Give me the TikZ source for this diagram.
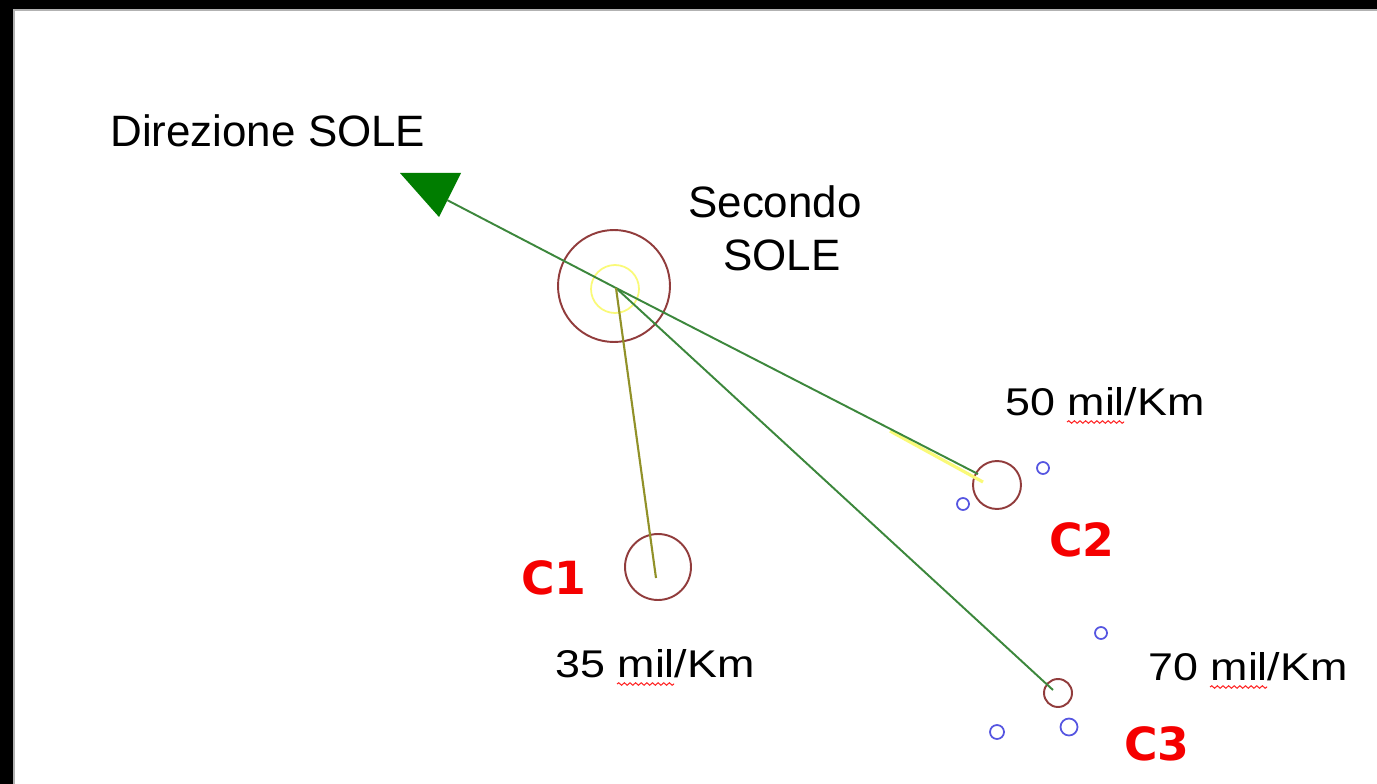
\documentclass[tikz,border=0pt]{standalone}
\usepackage{fontspec}
\setmainfont{Liberation Sans}
\newfontfamily\siglafont{DejaVu Sans}
\usepackage{xcolor}
\usetikzlibrary{decorations.pathmorphing}

\definecolor{colRaggio}{RGB}{60,135,60}
\definecolor{colOliva}{RGB}{145,145,40}
\definecolor{colCorpo}{RGB}{145,60,60}
\definecolor{colLuna}{RGB}{85,85,225}
\definecolor{colFreccia}{RGB}{0,125,0}
\definecolor{colGiallo}{RGB}{250,250,120}
\definecolor{colSigla}{RGB}{245,0,0}

\begin{document}
\begin{tikzpicture}[x=0.02cm, y=-0.02cm,
	corpo/.style={draw=colCorpo, line width=1.1pt, circle, inner sep=0pt},
	satellite/.style={draw=colLuna, line width=1pt, circle, inner sep=0pt, minimum size=0.24cm},
	raggio/.style={draw=colRaggio, line width=1.1pt},
	titolo/.style={font=\fontsize{25pt}{30pt}\selectfont, inner sep=0pt},
	distanza/.style={font=\fontsize{22pt}{26pt}\selectfont, xscale=1.16, anchor=base west, inner sep=0pt},
	sigla/.style={font=\siglafont\bfseries\fontsize{26pt}{30pt}\selectfont, text=colSigla, anchor=base west, inner sep=0pt},
	ondina/.style={draw=red!85, line width=0.6pt, decorate, decoration={snake, amplitude=0.7pt, segment length=3.2pt}}]
	\useasboundingbox (0,0) rectangle (1377,784);
	
	% 背景与边框
	\fill[white] (0,0) rectangle (1377,784);
	\fill[black] (0,0) rectangle (1377,9);
	\fill[black] (0,0) rectangle (13,784);
	\draw[gray!60, line width=0.6pt] (13,10) -- (1377,10);
	\draw[gray!60, line width=0.6pt] (14,9) -- (14,784);
	
	% 第二个太阳
	\node[corpo, minimum size=2.24cm] (sole) at (614,286) {};
	\node[draw=colGiallo, line width=1pt, circle, inner sep=0pt, minimum size=0.96cm] (nucleo) at (615,289) {};
	\coordinate (centro) at (616,288);
	
	% 天体
	\node[corpo, minimum size=1.32cm] (c1) at (658,567) {};
	\node[corpo, minimum size=0.96cm] (c2) at (997,485) {};
	\node[corpo, minimum size=0.56cm] (c3) at (1058,693) {};
	\coordinate (c1fine) at (656,578);
	\coordinate (c2fine) at (978,474);
	\coordinate (c3fine) at (1053,690);
	
	% 卫星
	\node[satellite] (s1) at (1043,468) {};
	\node[satellite] (s2) at (963,504) {};
	\node[satellite] (s3) at (1101,633) {};
	\node[satellite, minimum size=0.34cm] (s4) at (1069,727) {};
	\node[satellite, minimum size=0.28cm] (s5) at (997,732) {};
	
	% 太阳方向
	\coordinate (apice) at (447,200);
	\fill[colFreccia] (400,173) -- (461,173) -- (439,217) -- cycle;
	\draw[colGiallo, line width=1.8pt] (890,431) -- (983,482);
	\draw[raggio] (c2fine) -- (centro) -- (apice);
	\draw[raggio] (centro) -- (c3fine);
	\draw[draw=colOliva, line width=1.2pt] (centro) -- (c1fine);
	
	% 文字
	\node[titolo, anchor=base west] (direzione) at (110,147) {Direzione SOLE};
	\node[titolo, anchor=base] (secondo) at (775,217) {Secondo};
	\node[titolo, anchor=base] (secondosole) at (782,270) {SOLE};
	
	\node[distanza] (d2) at (1005,415) {50 mil/Km};
	\node[distanza] (d1) at (555,677) {35 mil/Km};
	\node[distanza] (d3) at (1148,680) {70 mil/Km};
	\draw[ondina] (1067,422) -- (1124,422);
	\draw[ondina] (617,684) -- (674,684);
	\draw[ondina] (1210,687) -- (1267,687);
	
	\node[sigla] (n1) at (521,594) {C1};
	\node[sigla] (n2) at (1049,556) {C2};
	\node[sigla] (n3) at (1124,760) {C3};
\end{tikzpicture}
\end{document}
